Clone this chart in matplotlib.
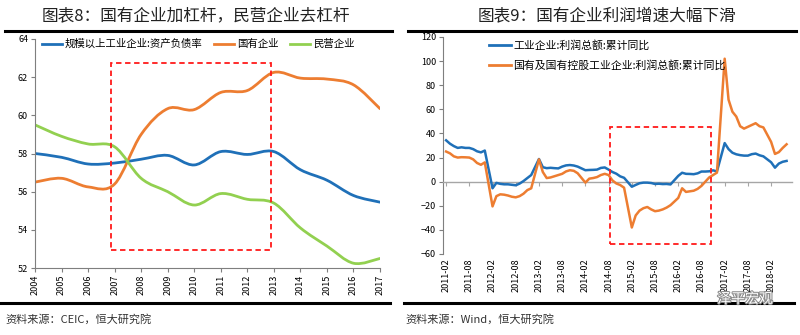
import numpy as np
import matplotlib
matplotlib.use('Agg')
import matplotlib.pyplot as plt
from matplotlib.path import Path
from matplotlib.patches import PathPatch, Rectangle
from matplotlib.lines import Line2D
import matplotlib.patheffects as pe

plt.rcParams['font.family'] = ['Noto Sans CJK SC', 'DejaVu Sans']

# 图表8 数据（年度）
years = [2004, 2005, 2006, 2007, 2008, 2009, 2010, 2011, 2012, 2013, 2014, 2015, 2016, 2017]
debt_all = [58.0, 57.8, 57.45, 57.5, 57.7, 57.9, 57.4, 58.1, 57.95, 58.1, 57.15, 56.6, 55.8, 55.45]
debt_soe = [56.5, 56.7, 56.25, 56.4, 59.0, 60.35, 60.3, 61.2, 61.3, 62.25, 61.95, 61.9, 61.6, 60.35]
debt_private = [59.5, 58.9, 58.5, 58.35, 56.7, 56.0, 55.3, 55.9, 55.6, 55.4, 54.1, 53.15, 52.25, 52.5]
left_names = ['规模以上工业企业:资产负债率', '国有企业', '民营企业']

# 图表9 数据（月度，缺1月）
months = []
for y in range(2011, 2019):
    for m in range(2, 13):
        if y == 2018 and m > 6:
            break
        months.append(f'{y}-{m:02d}')

profit_all = [
    34.3, 31.5, 29.5, 28.0, 28.5, 28.0, 28.0, 27.0, 25.2, 24.3, 25.8,
    -5.5, -1.0, -1.8, -2.2, -2.2, -2.6, -3.0, -1.6, 0.5, 3.0, 5.5,
    18.8, 12.0, 11.2, 11.5, 11.2, 11.0, 12.5, 13.5, 13.8, 13.4, 12.5,
    9.5, 9.7, 9.8, 10.0, 11.4, 11.8, 10.0, 8.0, 6.6, 4.4, 3.2,
    -4.2, -2.7, -1.3, -0.8, -0.8, -1.1, -1.9, -1.7, -2.0, -1.9, -2.3,
    4.8, 7.4, 6.5, 6.4, 6.2, 6.9, 8.4, 8.4, 8.6, 9.4, 8.5,
    32.0, 27.0, 24.0, 22.7, 22.0, 21.6, 21.6, 22.8, 23.3, 21.9, 21.0,
    16.1, 11.6, 15.0, 16.5, 17.2]
profit_soe = [
    25.0, 23.5, 21.0, 20.0, 20.3, 20.2, 20.0, 18.5, 15.5, 14.0, 16.0,
    -20.5, -12.0, -10.5, -10.8, -11.5, -12.5, -13.0, -12.0, -10.0, -7.0, -5.5,
    18.5, 8.0, 3.0, 3.5, 4.5, 5.5, 6.5, 8.5, 9.5, 9.0, 7.0,
    -0.8, 2.5, 3.0, 3.8, 5.5, 6.5, 5.5, 1.0, -1.5, -2.8, -5.0,
    -38.0, -28.0, -24.0, -22.0, -21.0, -23.0, -24.5, -24.0, -23.0, -21.5, -19.5,
    -13.5, -5.5, -8.5, -8.0, -7.5, -6.0, -3.5, 0.0, 3.5, 5.5, 7.5,
    102.0, 68.0, 58.0, 54.0, 46.0, 44.0, 45.5, 47.0, 48.5, 46.0, 45.0,
    33.0, 23.0, 24.5, 28.0, 31.0]
right_names = ['工业企业:利润总额:累计同比', '国有及国有控股工业企业:利润总额:累计同比']
right_ticks = [f'{y}-{m:02d}' for y in range(2011, 2019) for m in (2, 8) if not (y == 2018 and m == 8)]

BLUE = '#1F70B8'
ORANGE = '#ED7D31'
GREEN = '#92D050'
RED = '#FF1A1A'
AXIS_GRAY = '#7F7F7F'


def smooth_path(xs, ys):
    # Excel 风格的平滑线
    pts = np.column_stack([xs, ys]).astype(float)
    n = len(pts)
    verts = [pts[0]]
    codes = [Path.MOVETO]
    for k in range(n - 1):
        p0 = pts[k - 1] if k > 0 else pts[k]
        p1, p2 = pts[k], pts[k + 1]
        p3 = pts[k + 2] if k + 2 < n else pts[k + 1]
        verts += [p1 + (p2 - p0) / 6, p2 - (p3 - p1) / 6, p2]
        codes += [Path.CURVE4] * 3
    return Path(verts, codes)


def month_pos(s):
    y, m = s.split('-')
    return (int(y) - 2011) * 12 + int(m) - 2


def main():
    fig = plt.figure(figsize=(8, 3.35), dpi=100)
    W, H = 800, 335

    # ---------- 左图 ----------
    ax1 = fig.add_axes([35 / W, 1 - 268 / H, 345 / W, 229 / H])
    for vals, c in zip([debt_all, debt_soe, debt_private], [BLUE, ORANGE, GREEN]):
        ax1.add_patch(PathPatch(smooth_path(years, vals), fill=False, edgecolor=c,
                                lw=2.0, capstyle='round', joinstyle='round'))
    ax1.set_xlim(2004, 2017)
    ax1.set_ylim(52, 64)
    ax1.set_xticks(years)
    ax1.set_xticklabels([str(y) for y in years], rotation=90)
    ax1.set_yticks(range(52, 65, 2))
    for s in ['top', 'right']:
        ax1.spines[s].set_visible(False)
    for s in ['left', 'bottom']:
        ax1.spines[s].set_color(AXIS_GRAY)
        ax1.spines[s].set_linewidth(0.8)
    ax1.tick_params(axis='both', labelsize=6.5, length=3, width=0.8, color=AXIS_GRAY, pad=2)
    ax1.add_patch(Rectangle((2006.88, 52.96), 6.02, 9.8, fill=False, edgecolor=RED,
                            lw=1.3, linestyle=(0, (3, 2))))
    handles = [Line2D([], [], color=c, lw=2) for c in [BLUE, ORANGE, GREEN]]
    ax1.legend(handles, left_names, loc='upper left', ncol=3, frameon=False,
               bbox_to_anchor=(42 / W, 1 - 39 / H), bbox_transform=fig.transFigure,
               borderaxespad=0, borderpad=0, fontsize=7.5, handlelength=1.9,
               handletextpad=0.3, columnspacing=1.1)

    # ---------- 右图 ----------
    ax2 = fig.add_axes([443 / W, 1 - 254 / H, 349 / W, 217 / H])
    xs = [month_pos(s) for s in months]
    ax2.plot(xs, profit_all, color=BLUE, lw=1.8, zorder=3)
    ax2.plot(xs, profit_soe, color=ORANGE, lw=1.8, zorder=3)
    ax2.set_xlim(-0.8, 89.4)
    ax2.set_ylim(-60, 120)
    ax2.set_yticks(range(-60, 121, 20))
    for s in ['top', 'right']:
        ax2.spines[s].set_visible(False)
    ax2.spines['left'].set_color(AXIS_GRAY)
    ax2.spines['left'].set_linewidth(0.8)
    ax2.spines['bottom'].set_position(('data', 0))
    ax2.spines['bottom'].set_color('#A6A6A6')
    ax2.spines['bottom'].set_linewidth(1.0)
    tick_x = [month_pos(s) for s in right_ticks]
    ax2.set_xticks(tick_x)
    ax2.tick_params(axis='x', labelbottom=False, length=3, width=0.8, color='#A6A6A6')
    ax2.tick_params(axis='y', labelsize=6.5, length=3, width=0.8, color=AXIS_GRAY, pad=2)
    sec = ax2.secondary_xaxis(0)
    sec.set_xticks(tick_x)
    sec.set_xticklabels(right_ticks, rotation=90)
    sec.spines['bottom'].set_visible(False)
    sec.tick_params(length=0, labelsize=6.5, pad=3)
    ax2.add_patch(Rectangle((month_pos('2014-08') + 0.4, -52), 26.0, 97, fill=False,
                            edgecolor=RED, lw=1.3, linestyle=(0, (3, 2)), zorder=4))
    handles = [Line2D([], [], color=c, lw=2) for c in [BLUE, ORANGE]]
    ax2.legend(handles, right_names, loc='upper left', ncol=1, frameon=False,
               bbox_to_anchor=(489 / W, 1 - 40 / H), bbox_transform=fig.transFigure,
               borderaxespad=0, borderpad=0, fontsize=7.8, handlelength=2.0,
               handletextpad=0.25, labelspacing=0.85)

    # ---------- 标题、分隔线、来源 ----------
    fig.text(196 / W, 1 - 16 / H, '图表8：国有企业加杠杆，民营企业去杠杆',
             ha='center', va='center', fontsize=12, fontweight='light', color='#222222')
    fig.text(607 / W, 1 - 16 / H, '图表9：国有企业利润增速大幅下滑',
             ha='center', va='center', fontsize=12, fontweight='light', color='#222222')
    for x0, x1 in [(5, 392), (408, 796)]:
        fig.add_artist(Line2D([x0 / W, x1 / W], [1 - 31 / H] * 2, transform=fig.transFigure,
                              color='black', lw=2.2))
        fig.add_artist(Line2D([x0 / W - 4 / W, x1 / W - 2 / W], [1 - 303 / H] * 2,
                              transform=fig.transFigure, color='black', lw=2.2))
    fig.text(5 / W, 1 - 319 / H, '资料来源：CEIC，恒大研究院', ha='left', va='center',
             fontsize=8, fontweight='light', color='#333333')
    fig.text(405 / W, 1 - 319 / H, '资料来源：Wind，恒大研究院', ha='left', va='center',
             fontsize=8, fontweight='light', color='#333333')
    fig.text(745 / W, 1 - 299 / H, '泽平宏观', ha='center', va='center', fontsize=10,
             color='white', path_effects=[pe.withStroke(linewidth=1.5, foreground='#8c8c8c')])

    fig.savefig('out.png', dpi=100)


if __name__ == '__main__':
    main()
